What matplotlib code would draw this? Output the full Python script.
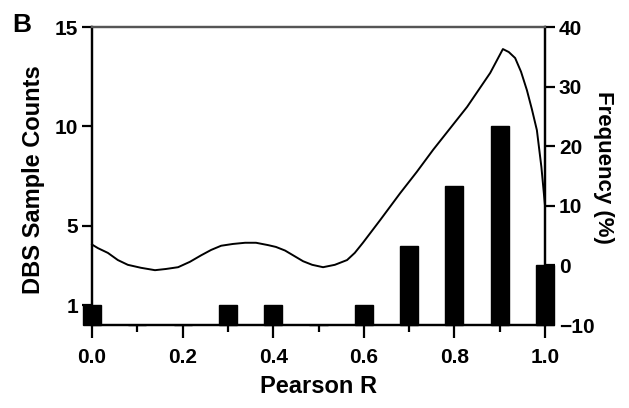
import numpy as np
import matplotlib
matplotlib.use("Agg")
import matplotlib.pyplot as plt

plt.rcParams['font.family'] = ['Liberation Sans', 'DejaVu Sans']
plt.rcParams['font.weight'] = 'bold'

# histogram of Pearson R (counts)
bin_centers = [0.0, 0.1, 0.2, 0.3, 0.4, 0.5, 0.6, 0.7, 0.8, 0.9, 1.0]
counts = [1, 0, 0, 1, 1, 0, 1, 4, 7, 10, 3]

# smoothed frequency curve (%)
curve_x = [0.0, 0.013, 0.035, 0.057, 0.079, 0.108, 0.139, 0.163, 0.19, 0.216,
           0.241, 0.263, 0.285, 0.311, 0.338, 0.362, 0.389, 0.406, 0.426, 0.446,
           0.466, 0.486, 0.51, 0.536, 0.563, 0.58, 0.598, 0.636, 0.68, 0.717,
           0.753, 0.828, 0.879, 0.907, 0.92, 0.934, 0.947, 0.96, 0.971, 0.982,
           0.992, 1.0]
curve_y = [3.5, 2.9, 2.1, 0.9, 0.1, -0.4, -0.8, -0.6, -0.3, 0.6,
           1.7, 2.6, 3.3, 3.6, 3.8, 3.8, 3.4, 3.1, 2.5, 1.6,
           0.7, 0.1, -0.3, 0.1, 0.9, 2.1, 3.8, 7.6, 12.1, 15.7,
           19.4, 26.6, 32.3, 36.3, 35.8, 34.8, 32.5, 29.4, 26.2, 22.7,
           16.5, 10.0]

left_ticks = [1, 5, 10, 15]
right_ticks = [-10, 0, 10, 20, 30, 40]
x_major = [0.0, 0.2, 0.4, 0.6, 0.8, 1.0]

fig = plt.figure(figsize=(6.29, 4.08), dpi=100)
ax = fig.add_axes([0.1463, 0.2034, 0.7202, 0.7304])
ax2 = ax.twinx()

ax.bar(bin_centers, counts, width=0.04, color='black', edgecolor='black',
       linewidth=1.0, clip_on=False, zorder=3)
ax2.plot(curve_x, curve_y, color='black', lw=1.4, clip_on=False)

ax.set_xlim(0, 1.0)
ax.set_ylim(0, 15)
ax2.set_ylim(-10, 40)

ax.set_xticks(x_major)
ax.set_xticklabels(['%.1f' % v for v in x_major])
ax.set_xticks(bin_centers, minor=True)
ax.set_yticks(left_ticks)
ax2.set_yticks(right_ticks)

for a in (ax, ax2):
    for s in a.spines.values():
        s.set_linewidth(1.6)
    a.tick_params(axis='y', which='both', width=1.6, length=7, labelsize=15,
                  pad=3)
ax.tick_params(axis='x', which='major', width=1.6, length=9.5, labelsize=15,
               pad=7)
ax.tick_params(axis='x', which='minor', width=1.6, length=5)
ax.spines['top'].set_color('#555555')
ax2.spines['top'].set_color('#555555')

ax.set_xlabel('Pearson R', fontsize=17, fontweight='bold', labelpad=6)
ax.set_ylabel('DBS Sample Counts', fontsize=17, fontweight='bold',
              va='center', ha='center')
ax.yaxis.set_label_coords(-0.13, 0.487)
ax2.set_ylabel('Frequency (%)', fontsize=16, fontweight='bold', rotation=270,
               va='center', ha='center')
ax2.yaxis.set_label_coords(1.128, 0.53)

fig.text(0.02, 1 - 32 / 408, 'B', fontsize=19, fontweight='bold',
         va='baseline')

fig.savefig('out.png', dpi=100)
